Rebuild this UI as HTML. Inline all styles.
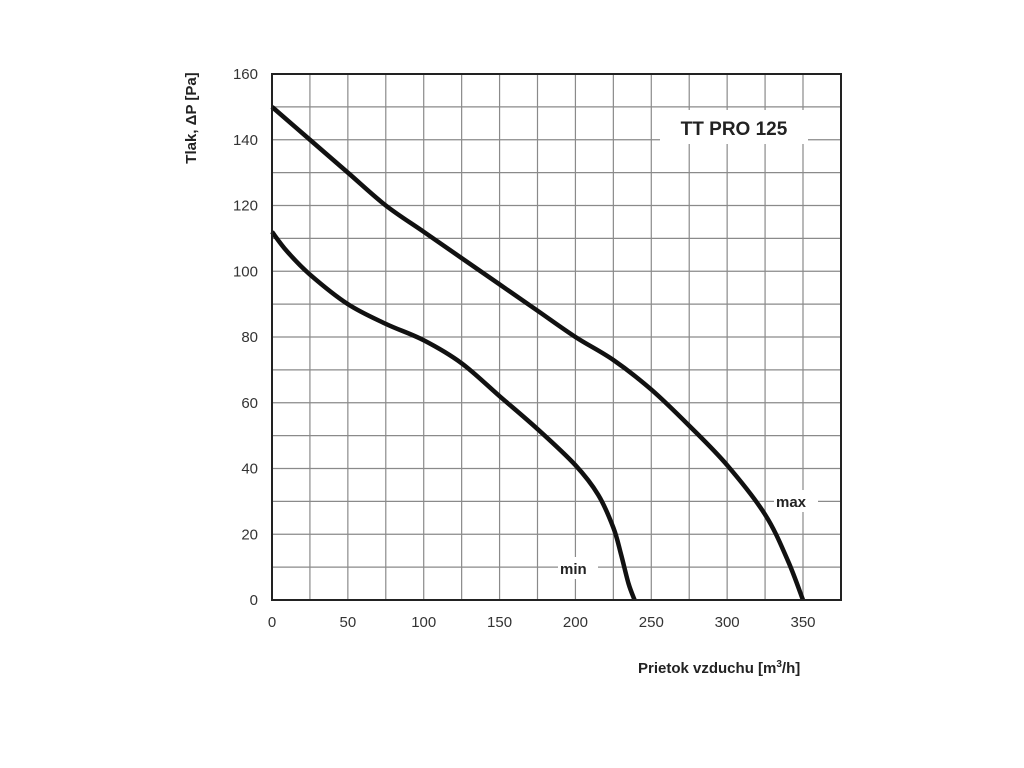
<!DOCTYPE html>
<html><head><meta charset="utf-8"><style>
html,body{margin:0;padding:0;background:#fff;}
svg{display:block;font-family:"Liberation Sans",Arial,sans-serif;}
</style></head><body>
<svg id="chart" width="1024" height="768" viewBox="0 0 1024 768">
<g id="grid"></g>
<g id="curves"></g>
<g id="axes"></g>
<text x="0" y="0" transform="translate(196,118) rotate(-90)" text-anchor="middle" font-size="15" font-weight="bold" fill="#222">Tlak, ΔP [Pa]</text>
<text x="638" y="673" font-size="15" font-weight="bold" fill="#222">Prietok vzduchu  [m<tspan font-size="10" dy="-6">3</tspan><tspan dy="6">/h]</tspan></text>
<rect x="660" y="110" width="148" height="34" fill="#fff"/>
<text x="734" y="135" text-anchor="middle" font-size="19" font-weight="bold" fill="#222">TT PRO 125</text>
<rect x="774" y="490" width="44" height="22" fill="#fff"/>
<text x="776" y="507" font-size="15" font-weight="bold" fill="#222">max</text>
<rect x="558" y="557" width="40" height="22" fill="#fff"/>
<text x="560" y="574" font-size="15" font-weight="bold" fill="#222">min</text>
</svg>
<script>
const xTicks=[0,50,100,150,200,250,300,350];
const yTicks=[0,20,40,60,80,100,120,140,160];
const maxX=[0,25,50,75,100,125,150,175,200,225,250,275,300,325,340,350];
const maxY=[150,140,130,120,112,104,96,88,80,73,64,53,41,26,12,0];
const minX=[0,10,25,50,75,100,125,150,175,200,215,225,230,235,239];
const minY=[112,106,99,90,84,79,72,62,52,41,32,22,14,5,0];
const X0=272,X1=841,Y0=600,Y1=74,XMAX=375,YMAX=160;
const sx=v=>X0+v*(803-272)/350;
const sy=v=>Y0-v*(Y0-Y1)/YMAX;
const NS="http://www.w3.org/2000/svg";
function mk(t,a,p){const e=document.createElementNS(NS,t);for(const k in a)e.setAttribute(k,a[k]);p.appendChild(e);return e;}
const grid=document.getElementById('grid'),axes=document.getElementById('axes'),curves=document.getElementById('curves');
for(let v=25;v<XMAX;v+=25){const l=mk('line',{x1:sx(v),x2:sx(v),y1:Y1,y2:Y0,stroke:'#8a8a8a','stroke-width':1.2},grid);

}
for(let v=10;v<YMAX;v+=10){const l=mk('line',{x1:X0,x2:X1,y1:sy(v),y2:sy(v),stroke:'#8a8a8a','stroke-width':1.2},grid);

}
const fr=mk('path',{d:`M${X0},${Y1}H${X1}V${Y0}H${X0}Z`,fill:'none',stroke:'#222','stroke-width':2},axes);


xTicks.forEach(v=>{const t=mk('text',{x:sx(v),y:627,'text-anchor':'middle','font-size':15,fill:'#333'},axes);t.textContent=v;

});
yTicks.forEach(v=>{const t=mk('text',{x:258,y:sy(v)+5,'text-anchor':'end','font-size':15,fill:'#333'},axes);t.textContent=v;

});
function path(xs,ys){const p=xs.map((x,i)=>[sx(x),sy(ys[i])]);let d=`M${p[0][0]},${p[0][1]}`;
for(let i=0;i<p.length-1;i++){const a=p[Math.max(0,i-1)],b=p[i],c=p[i+1],e=p[Math.min(p.length-1,i+2)];
d+=`C${b[0]+(c[0]-a[0])/6},${b[1]+(c[1]-a[1])/6} ${c[0]-(e[0]-b[0])/6},${c[1]-(e[1]-b[1])/6} ${c[0]},${c[1]}`;}return d;}
const c1=mk('path',{d:path(maxX,maxY),fill:'none',stroke:'#111','stroke-width':4.5},curves);


const c2=mk('path',{d:path(minX,minY),fill:'none',stroke:'#111','stroke-width':4.5},curves);


</script>
</body></html>
